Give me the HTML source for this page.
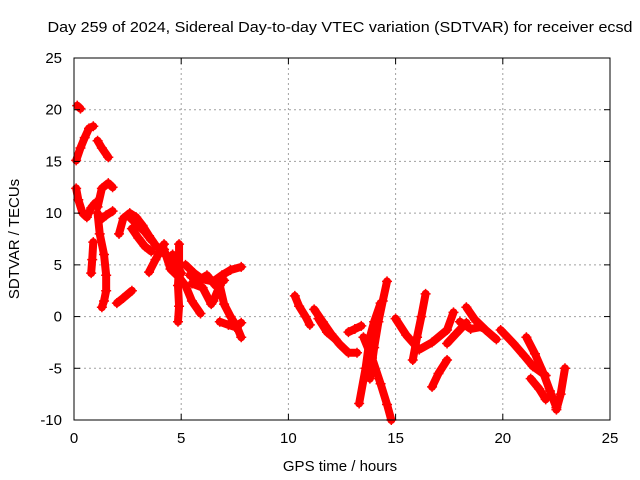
<!DOCTYPE html>
<html><head><meta charset="utf-8">
<style>
body{margin:0;background:#fff;}
svg{display:block;font-family:"Liberation Sans",sans-serif;}
</style></head>
<body>
<svg id="chart" width="640" height="480" viewBox="0 0 640 480">
<rect width="640" height="480" fill="#fff"/>
<text x="340" y="32" font-size="15" text-anchor="middle" textLength="585" lengthAdjust="spacingAndGlyphs">Day 259 of 2024, Sidereal Day-to-day VTEC variation (SDTVAR) for receiver ecsd</text>
<g id="grid"></g>
<g id="series"></g>
<rect x="74" y="58" width="536" height="362" fill="none" stroke="#000" stroke-width="1"/>
<g id="ticks"></g>
<text transform="translate(19,239) rotate(-90)" font-size="15" text-anchor="middle">SDTVAR / TECUs</text>
<text x="340" y="471" font-size="15" text-anchor="middle">GPS time / hours</text>
</svg>
<script>
const xTicks=[0,5,10,15,20,25];
const yTicks=[-10,-5,0,5,10,15,20,25];
const tracks=[
[[0.15,20.4],[0.3,20.1]],
[[0.1,15.1],[0.3,16.3],[0.5,17.3],[0.7,18.2],[0.9,18.4]],
[[1.1,17],[1.3,16.3],[1.6,15.4]],
[[0.1,12.4],[0.2,11.3],[0.4,10],[0.6,9.6],[0.8,10.5],[1.0,11]],
[[1.1,10.6],[1.3,12.4],[1.6,12.9],[1.8,12.5]],
[[1.1,10],[1.2,8],[1.4,6],[1.5,4],[1.5,2.5],[1.4,1.5],[1.3,0.9]],
[[0.9,7.2],[0.85,5.5],[0.8,4.2]],
[[1.2,9.3],[1.5,9.8],[1.8,10.2]],
[[2.0,1.3],[2.3,1.8],[2.7,2.5]],
[[2.1,8],[2.3,9.5],[2.6,10],[2.9,9.6],[3.2,8.8],[3.5,7.8],[3.8,6.9],[4.2,6.1],[4.6,5.5]],
[[2.5,9.8],[2.9,9],[3.3,8.2],[3.6,7.4]],
[[2.7,8.5],[3.0,7.6],[3.3,6.8],[3.6,6.3]],
[[3.5,4.3],[3.8,5.5],[4.2,7.0]],
[[4.9,7],[4.9,5],[4.85,3],[4.9,1],[4.85,-0.5]],
[[4.2,6.5],[4.5,4.6],[4.9,3.8],[5.2,3],[5.5,1.5],[5.9,0.3]],
[[4.6,6],[4.8,5],[5.0,4.2]],
[[5.2,5],[5.6,4.2],[6.0,3.6],[6.5,3.4],[6.9,4],[7.3,4.5],[7.8,4.8]],
[[5.4,4],[5.8,3.5],[6.2,4],[6.6,3],[7.0,3.5]],
[[6.5,1.5],[6.8,3],[7.0,1.2],[7.3,0],[7.6,-1],[7.8,-2]],
[[6.8,-0.5],[7.2,-0.8],[7.5,-1],[7.8,-0.6]],
[[5.5,3.2],[6.0,2.8],[6.4,1.2]],
[[10.3,2],[10.5,1],[10.8,0],[11.0,-0.8]],
[[11.2,0.7],[11.6,-0.5],[12.0,-1.7],[12.4,-2.7],[12.8,-3.5],[13.2,-3.5]],
[[11.4,-0.2],[11.8,-1.5],[12.2,-2.2]],
[[12.8,-1.5],[13.1,-1.2],[13.4,-0.9]],
[[13.3,-8.4],[13.6,-5],[13.8,-2],[14.0,-0.5],[14.3,1.3]],
[[13.8,-6],[14.0,-3],[14.2,-0.5],[14.4,1.5],[14.6,3.4]],
[[13.5,-2],[13.9,-4],[14.3,-6.5],[14.6,-8.5],[14.8,-10]],
[[15.0,-0.2],[15.5,-1.8],[16.1,-3.2],[16.7,-2.5],[17.4,-1.3],[17.7,0.4]],
[[15.8,-4.2],[16.0,-2],[16.2,0],[16.4,2.2]],
[[16.7,-6.8],[17.0,-5.5],[17.4,-4.2]],
[[17.4,-2.6],[17.8,-1.7],[18.3,-0.6]],
[[18.3,0.9],[18.7,-0.3],[19.2,-1.3],[19.7,-2.2]],
[[18.0,-0.5],[18.5,-1.2],[19.0,-1.0]],
[[19.9,-1.3],[20.5,-2.6],[21.0,-3.8],[21.4,-4.8],[22.0,-5.7]],
[[21.1,-2],[21.5,-3.6],[21.9,-5.5],[22.2,-7.2],[22.5,-8.8]],
[[22.5,-9],[22.7,-7.5],[22.9,-5]],
[[21.3,-6],[21.7,-7],[22.0,-8]]
];
const X0=74,X1=610,Y0=420,Y1=58;
const xs=v=>X0+(v-0)/(25-0)*(X1-X0);
const ys=v=>Y0-(v+10)/35*(Y0-Y1);
const NS="http://www.w3.org/2000/svg";
const grid=document.getElementById('grid'),ticks=document.getElementById('ticks'),series=document.getElementById('series');
function mk(tag,attrs,parent){const e=document.createElementNS(NS,tag);for(const k in attrs)e.setAttribute(k,attrs[k]);parent.appendChild(e);return e;}
xTicks.forEach(t=>{
  const x=xs(t);
  if(t>0&&t<25){const g=mk('line',{x1:x,x2:x,y1:Y1,y2:Y0,stroke:'#a0a0a0','stroke-dasharray':'2,3'},grid);
  
  }
  mk('line',{x1:x,x2:x,y1:Y0,y2:Y0-6,stroke:'#000'},ticks);
  mk('line',{x1:x,x2:x,y1:Y1,y2:Y1+6,stroke:'#000'},ticks);
  const l=mk('text',{x:x,y:443,'font-size':15,'text-anchor':'middle'},ticks);
  l.textContent=t;
  
  
});
yTicks.forEach(t=>{
  const y=ys(t);
  if(t>-10&&t<25){const g=mk('line',{x1:X0,x2:X1,y1:y,y2:y,stroke:'#a0a0a0','stroke-dasharray':'2,3'},grid);
  
  }
  mk('line',{x1:X0,x2:X0+6,y1:y,y2:y,stroke:'#000'},ticks);
  mk('line',{x1:X1,x2:X1-6,y1:y,y2:y,stroke:'#000'},ticks);
  const l=mk('text',{x:62,y:y+5,'font-size':15,'text-anchor':'end'},ticks);
  l.textContent=t;
  
  
});
tracks.forEach(tr=>{
  const p=mk('polyline',{points:tr.map(d=>xs(d[0])+','+ys(d[1])).join(' '),fill:'none',stroke:'#f00','stroke-width':8,'stroke-linejoin':'round','stroke-linecap':'round'},series);
  
  
  tr.forEach(d=>{
    const x=xs(d[0]),y=ys(d[1]);
    const m=mk('path',{d:`M${x-5},${y}H${x+5}M${x},${y-5}V${y+5}`,stroke:'#f00','stroke-width':1.5},series);
    
    
  });
});
</script>
</body></html>
